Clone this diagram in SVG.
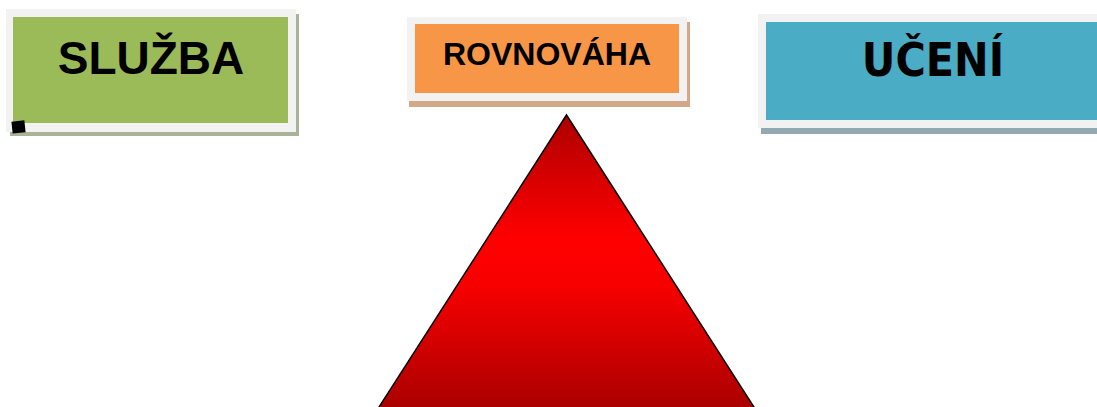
<svg xmlns="http://www.w3.org/2000/svg" width="1097" height="407" viewBox="0 0 1097 407">
<style>
.frame{fill:#f2f2f2}
.lbl{font-family:"Liberation Sans",Arial,sans-serif;font-weight:bold;fill:#000;text-anchor:middle}
.lbl2{font-family:"DejaVu Sans Condensed","DejaVu Sans",sans-serif;font-weight:bold;fill:#000;text-anchor:middle}
</style>
<defs>
<linearGradient id="redg" x1="0" y1="115" x2="0" y2="407" gradientUnits="userSpaceOnUse">
<stop offset="0" stop-color="#ad0000"/>
<stop offset="0.42" stop-color="#ff0000"/>
<stop offset="0.58" stop-color="#f80000"/>
<stop offset="1" stop-color="#ab0000"/>
</linearGradient>
</defs>
<rect width="1097" height="407" fill="#fff"/>
<g id="sluzba">
<rect x="10" y="14" width="289" height="122" fill="#a9b398"/>
<rect class="frame" x="6" y="9" width="290" height="123"/>
<rect x="13" y="17" width="275" height="106" fill="#9bbb59"/>
<rect x="12" y="121" width="13" height="12" fill="#000" transform="rotate(-6 18 127)"/>
<text class="lbl" x="151" y="74" font-size="46">SLUŽBA</text>
</g>
<g id="rovnovaha">
<rect x="409" y="22" width="281" height="85" fill="#d2a887"/>
<rect class="frame" x="407" y="17" width="280" height="84"/>
<rect x="415" y="24" width="264" height="69" fill="#f79646"/>
<text class="lbl" x="547" y="65" font-size="32">ROVNOVÁHA</text>
</g>
<g id="uceni">
<rect x="761" y="18" width="336" height="116" fill="#93a9b2"/>
<rect class="frame" x="758" y="14" width="339" height="114"/>
<rect x="766" y="22" width="331" height="98" fill="#4bacc6"/>
<text class="lbl2" x="933" y="76" font-size="46">UČENÍ</text>
</g>
<g id="triangle">
<polygon points="566.5,115 372,418 761,418" fill="url(#redg)" stroke="#000" stroke-width="1.5" stroke-linejoin="miter"/>
</g>
<g id="connectors"></g>
</svg>
